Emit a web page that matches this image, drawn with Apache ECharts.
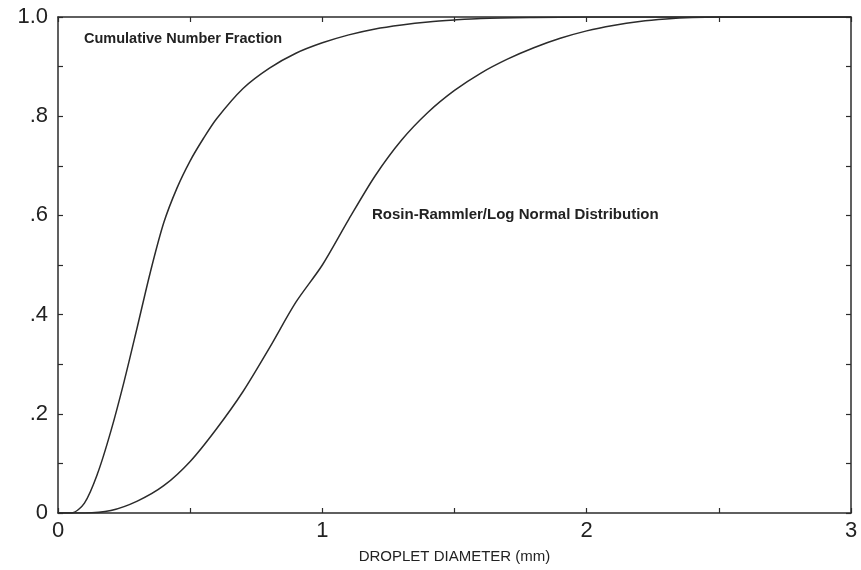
<!DOCTYPE html>
<html>
<head>
<meta charset="utf-8">
<script src="https://cdn.jsdelivr.net/npm/echarts@6/dist/echarts.min.js"></script>
<style>html,body{margin:0;padding:0;background:#fff;}#c{width:861px;height:570px;}</style>
</head>
<body>
<div id="c"></div>
<script>
// Cumulative Number Fraction
const numX = [0, 0.05, 0.1, 0.15, 0.2, 0.25, 0.3, 0.35, 0.4, 0.45, 0.5, 0.55, 0.6, 0.7, 0.8, 0.9, 1.0, 1.1, 1.2, 1.3, 1.4, 1.5, 1.6, 1.8, 2.0, 2.5, 3.0];
const numY = [0, 0, 0.02, 0.08, 0.165, 0.265, 0.375, 0.487, 0.585, 0.655, 0.71, 0.755, 0.795, 0.856, 0.897, 0.927, 0.948, 0.964, 0.976, 0.984, 0.99, 0.994, 0.997, 0.999, 1.0, 1.0, 1.0];
// Rosin-Rammler / Log Normal Distribution
const rrX = [0, 0.1, 0.2, 0.3, 0.4, 0.5, 0.6, 0.7, 0.8, 0.9, 1.0, 1.1, 1.2, 1.3, 1.4, 1.5, 1.6, 1.7, 1.8, 1.9, 2.0, 2.1, 2.2, 2.3, 2.4, 2.5, 3.0];
const rrY = [0, 0, 0.005, 0.024, 0.055, 0.104, 0.17, 0.245, 0.333, 0.425, 0.50, 0.592, 0.68, 0.752, 0.808, 0.852, 0.887, 0.915, 0.938, 0.957, 0.972, 0.983, 0.991, 0.996, 0.999, 1.0, 1.0];
const xTickLabels = ['0', '1', '2', '3'];
const yTickLabels = {0: '0', 2: '.2', 4: '.4', 6: '.6', 8: '.8', 10: '1.0'};
const xAxisTitle = 'DROPLET DIAMETER (mm)';
const note1 = 'Cumulative Number Fraction';
const note2 = 'Rosin-Rammler/Log Normal Distribution';

const axisColor = '#2b2b2b';
const lineColor = '#2b2b2b';
const tickFont = {fontFamily: 'Liberation Sans', fontSize: 22, color: '#222'};

function xFmt(v) {
  const r = Math.round(v * 2);
  return (r % 2 === 0) ? xTickLabels[r / 2] : '';
}
function yFmt(v) {
  const r = Math.round(v * 10);
  return yTickLabels[r] !== undefined ? yTickLabels[r] : '';
}

const chart = echarts.init(document.getElementById('c'), null, {renderer: 'canvas'});
const baseX = {
  type: 'value', min: 0, max: 3, interval: 0.5,
  axisLine: {show: true, onZero: false, lineStyle: {color: axisColor, width: 1.5}},
  axisTick: {show: true, inside: true, length: 5, lineStyle: {color: axisColor, width: 1.2}},
  splitLine: {show: false}
};
const baseY = {
  type: 'value', min: 0, max: 1, interval: 0.1,
  axisLine: {show: true, onZero: false, lineStyle: {color: axisColor, width: 1.5}},
  axisTick: {show: true, inside: true, length: 5, lineStyle: {color: axisColor, width: 1.2}},
  splitLine: {show: false}
};
chart.setOption({
  animation: false,
  backgroundColor: '#fff',
  grid: {left: 58, right: 10, top: 17, bottom: 57},
  xAxis: [
    Object.assign({}, baseX, {
      position: 'bottom',
      axisLabel: Object.assign({formatter: xFmt, margin: 7, showMinLabel: true, showMaxLabel: true}, tickFont),
      name: xAxisTitle, nameLocation: 'middle', nameGap: 36,
      nameTextStyle: {fontFamily: 'Liberation Sans', fontSize: 15, color: '#222'}
    }),
    Object.assign({}, baseX, {position: 'top', axisLabel: {show: false}})
  ],
  yAxis: [
    Object.assign({}, baseY, {
      position: 'left',
      axisLabel: Object.assign({formatter: yFmt, margin: 10, showMinLabel: true, showMaxLabel: true}, tickFont)
    }),
    Object.assign({}, baseY, {position: 'right', axisLabel: {show: false}})
  ],
  series: [
    {
      name: note1, type: 'line', xAxisIndex: 0, yAxisIndex: 0,
      data: numX.map((x, i) => [x, numY[i]]),
      smooth: 0.3, showSymbol: false,
      lineStyle: {color: lineColor, width: 1.5}
    },
    {
      name: note2, type: 'line', xAxisIndex: 0, yAxisIndex: 0,
      data: rrX.map((x, i) => [x, rrY[i]]),
      smooth: 0.3, showSymbol: false,
      lineStyle: {color: lineColor, width: 1.5}
    }
  ],
  graphic: [
    {type: 'text', left: 84, top: 31, style: {text: note1, fontFamily: 'Liberation Sans', fontWeight: 'bold', fontSize: 14.5, fill: '#222'}},
    {type: 'text', left: 372, top: 207, style: {text: note2, fontFamily: 'Liberation Sans', fontWeight: 'bold', fontSize: 15, fill: '#222'}}
  ]
});
</script>
</body>
</html>
